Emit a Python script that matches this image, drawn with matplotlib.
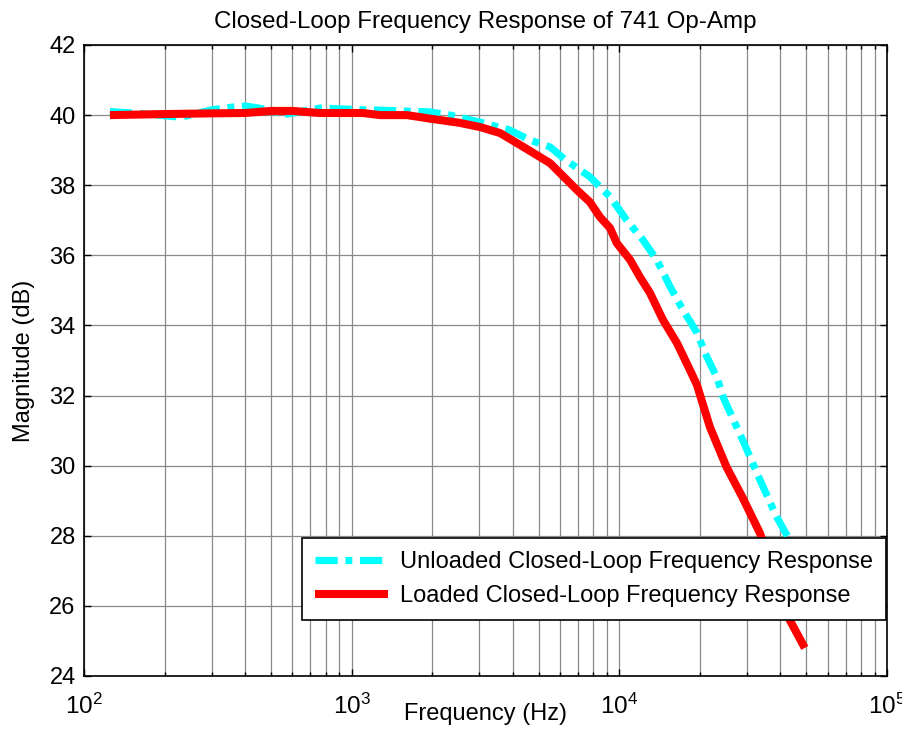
import numpy as np
import matplotlib
matplotlib.use("Agg")
import matplotlib.pyplot as plt
from matplotlib.ticker import LogLocator, MultipleLocator, NullFormatter, FixedLocator, FixedFormatter

plt.rcParams['font.family'] = ['Liberation Sans', 'DejaVu Sans']
plt.rcParams['mathtext.fontset'] = 'custom'
plt.rcParams['mathtext.rm'] = 'Liberation Sans'
plt.rcParams['mathtext.default'] = 'regular'
plt.rcParams['lines.scale_dashes'] = False

# Unloaded closed-loop response (Hz, dB)
f_unloaded = [125, 160, 230, 300, 360, 400, 450, 573, 760, 1100, 1280, 1960, 2330,
              3013, 3880, 4630, 5510, 6300, 7760, 9230, 10660, 12250, 13800, 15490,
              17300, 19500, 21240, 23200, 24400, 28900, 33500, 38700, 42600, 50000]
mag_unloaded = [40.10, 40.05, 39.94, 40.15, 40.23, 40.26, 40.20, 40.03, 40.20, 40.15,
                40.14, 40.09, 40.00, 39.80, 39.58, 39.29, 39.09, 38.72, 38.24, 37.67,
                37.00, 36.44, 35.87, 35.10, 34.44, 33.79, 33.10, 32.50, 31.96, 30.73,
                29.60, 28.54, 27.97, 26.70]

# Loaded closed-loop response (Hz, dB)
f_loaded = [125, 200, 300, 400, 500, 600, 760, 1100, 1280, 1610, 1960, 2530, 3013,
            3580, 4255, 5510, 6950, 7760, 8470, 9230, 9780, 10970, 11940, 13010,
            14550, 16410, 18350, 19500, 21800, 25150, 28830, 33500, 38000, 43300, 49300]
mag_loaded = [40.00, 40.03, 40.05, 40.06, 40.12, 40.12, 40.06, 40.06, 40.00, 40.00,
              39.90, 39.78, 39.66, 39.49, 39.15, 38.63, 37.86, 37.52, 37.09, 36.78,
              36.35, 35.87, 35.38, 34.93, 34.16, 33.50, 32.73, 32.30, 31.10, 29.96,
              29.10, 28.08, 26.90, 25.60, 24.80]

x_ticks = [1e2, 1e3, 1e4, 1e5]
x_tick_labels = ["$10^{2}$", "$10^{3}$", "$10^{4}$", "$10^{5}$"]

title = "Closed-Loop Frequency Response of 741 Op-Amp"
xlabel = "Frequency (Hz)"
ylabel = "Magnitude (dB)"
legend_labels = ["Unloaded Closed-Loop Frequency Response",
                 "Loaded Closed-Loop Frequency Response"]

fig = plt.figure(figsize=(9.03, 7.55), dpi=100)
ax = fig.add_axes([84/903, 1-676/755, (887-84)/903, (676-45)/755])

ax.semilogx(f_unloaded, mag_unloaded, color='#00FFFF', lw=5.2,
            dashes=(16, 5.5, 5, 5.5), dash_capstyle='butt', label=legend_labels[0])
ax.semilogx(f_loaded, mag_loaded, color='#FF0000', lw=5.8,
            solid_capstyle='butt', label=legend_labels[1])

ax.set_xlim(1e2, 1e5)
ax.set_ylim(24, 42)
ax.yaxis.set_major_locator(MultipleLocator(2))
ax.xaxis.set_major_locator(FixedLocator(x_ticks))
ax.xaxis.set_major_formatter(FixedFormatter(x_tick_labels))
ax.xaxis.set_minor_locator(LogLocator(base=10, subs=np.arange(2, 10), numticks=20))
ax.xaxis.set_minor_formatter(NullFormatter())

ax.grid(True, which='major', axis='both', color='#8a8a8a', lw=0.9, ls='-')
ax.grid(True, which='minor', axis='x', color='#8a8a8a', lw=0.9, ls='-')
ax.set_axisbelow(True)

ax.tick_params(which='both', direction='in', top=True, right=True, width=1)
ax.tick_params(axis='y', labelsize=17, pad=6)
ax.tick_params(axis='x', labelsize=17.5, pad=13)
ax.tick_params(which='major', length=5)
ax.tick_params(which='minor', length=3)
for s in ax.spines.values():
    s.set_linewidth(1.2)

ax.set_title(title, fontsize=17.4, pad=12)
ax.set_xlabel(xlabel, fontsize=17, labelpad=-12)
ax.set_ylabel(ylabel, fontsize=17, labelpad=10)

leg = ax.legend(loc='upper left', bbox_to_anchor=(302/903, 1-538/755),
                bbox_transform=fig.transFigure, fontsize=17, frameon=True,
                fancybox=False, edgecolor='black', framealpha=1,
                handlelength=3.1, borderaxespad=0, borderpad=0.55,
                labelspacing=0.5, handletextpad=0.5)
leg.get_frame().set_linewidth(1.2)

fig.savefig("out.png", dpi=100)
